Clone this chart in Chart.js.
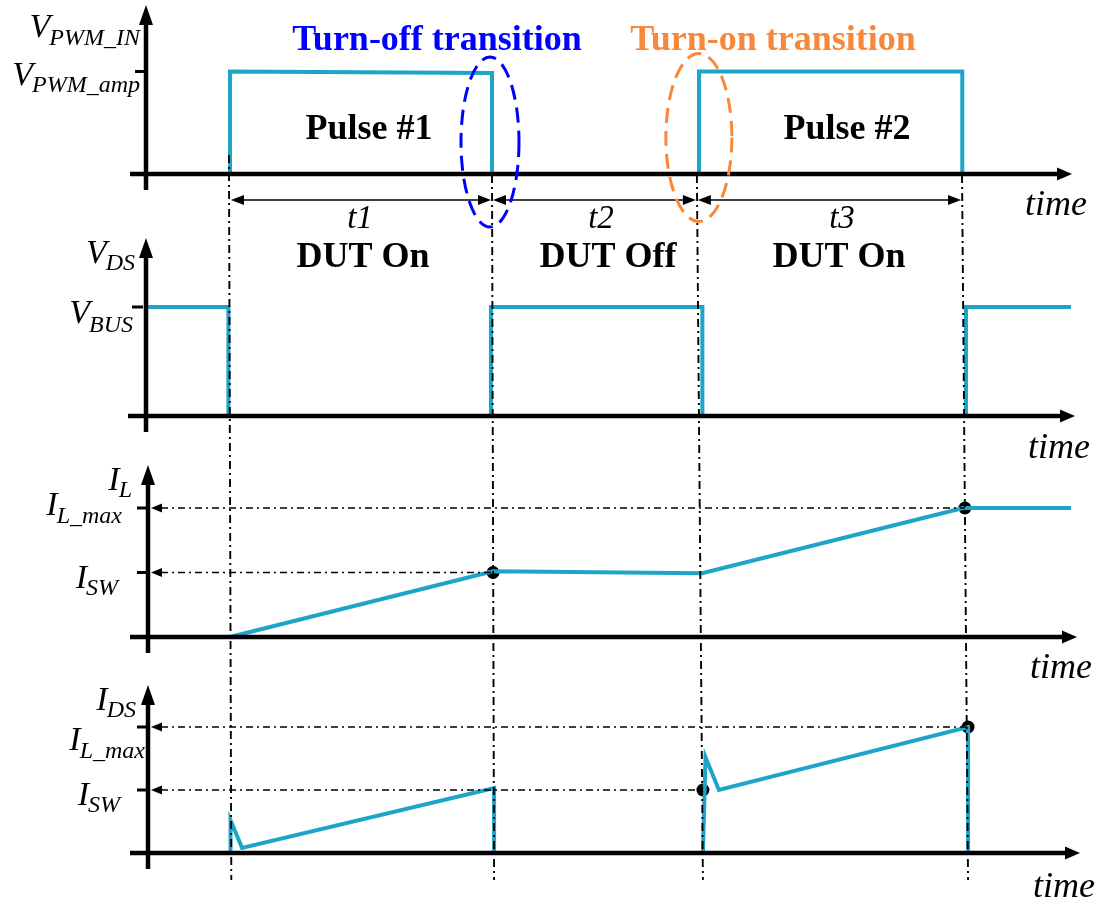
<!DOCTYPE html>
<html>
<head>
<meta charset="utf-8">
<script src="https://cdn.jsdelivr.net/npm/chart.js@4.4.1/dist/chart.umd.min.js"></script>
<style>
  html, body { margin: 0; padding: 0; background: #fff; }
  #wrap { width: 1100px; height: 903px; }
</style>
</head>
<body>
<div id="wrap"><canvas id="timing" width="1100" height="903"></canvas></div>
<script>
// time in arbitrary units, 0 = rising edge of pulse #1
const edgeTop = [-0.4, 100, 178.2, 279.4];      // switching edges, top of the guide lines
const edgeBottom = [0.5, 100.8, 180.5, 281.7];  // same edges at the bottom panel
const intervalLabels = ['t1', 't2', 't3'];
const stateLabels = ['DUT On', 'DUT Off', 'DUT On'];
const pulseLabels = ['Pulse #1', 'Pulse #2'];

// gate PWM, normalised to V_PWM_amp
const pwmTime = [0, 0, 100, 100, 179, 179, 279.5, 279.5];
const pwmLevel = [0, 1, 0.985, 0, 0, 1, 1, 0];

// drain-source voltage, normalised to V_BUS
const vdsTime = [-32, -0.6, -0.6, 99.6, 99.6, 180.3, 180.3, 280.9, 280.9, 321];
const vdsLevel = [1, 1, 0, 0, 1, 1, 0, 0, 1, 1];

// inductor current, normalised to I_L_max
const ilTime = [0, 100.4, 180.2, 279.8, 321];
const ilLevel = [0, 0.51, 0.495, 1, 1];
const ilDotTime = [100.4, 280.5];
const ilDotLevel = [0.5, 1];

// drain current, normalised to I_L_max
const idsTime = [0.2, 0.2, 4.6, 100.8, 100.8, 180.5, 181.5, 186.6, 281.7, 281.7];
const idsLevel = [0, 0.26, 0.04, 0.515, 0, 0, 0.76, 0.5, 1, 0];
const idsDotTime = [180.5, 281.7];
const idsDotLevel = [0.5, 1];

const TEAL = '#1ea4c7';
const SERIF = '"Liberation Serif", "Times New Roman", serif';
const W = 1100, H = 903;

// layout of the four panels (pixels)
const panels = [
  { id: 'y1', zeroPx: 174, onePx: 71.5, tip: 5, ax: 146, hStart: 130, hTip: 1072, ticks: [1],
    labels: [['V', 'PWM_IN', 140, 37, 45], ['V', 'PWM_amp', 140, 85, 92]], time: [1025, 215] },
  { id: 'y2', zeroPx: 416, onePx: 307, tip: 238, ax: 146, hStart: 128, hTip: 1075, ticks: [1], tickOff: -3,
    labels: [['V', 'DS', 135, 263, 270], ['V', 'BUS', 133, 323, 332]], time: [1028, 458] },
  { id: 'y3', zeroPx: 637, onePx: 508, tip: 465, ax: 148, hStart: 130, hTip: 1077, ticks: [1, 0.5],
    labels: [['I', 'L', 132, 490, 497], ['I', 'L_max', 122, 515, 523], ['I', 'SW', 118, 588, 595]], time: [1030, 678] },
  { id: 'y4', zeroPx: 853, onePx: 727, tip: 685, ax: 148, hStart: 130, hTip: 1080, ticks: [1, 0.5],
    labels: [['I', 'DS', 136, 710, 717], ['I', 'L_max', 145, 750, 758], ['I', 'SW', 120, 805, 812]], time: [1033, 897] }
];
// text centres under the interval arrows (pixels)
const intervalTextX = [360, 601, 842];
const stateTextX = [363, 608, 839];

function yRange(zeroPx, onePx) {
  const k = zeroPx - onePx;
  const min = (zeroPx - H) / k;
  return { min: min, max: min + H / k };
}
const xK = 2.62, xZero = 230;
const xMin = -xZero / xK;

function pts(t, v) { return t.map((x, i) => ({ x: x, y: v[i] })); }

function wave(data, axis) {
  return { type: 'line', data: data, yAxisID: axis, borderColor: TEAL, borderWidth: 4,
    pointRadius: 0, borderJoinStyle: 'miter', borderCapStyle: 'butt', tension: 0, fill: false };
}
function dots(data, axis) {
  return { type: 'scatter', data: data, yAxisID: axis, pointRadius: 6.5, pointBackgroundColor: '#000',
    pointBorderWidth: 0, showLine: false };
}

function head(ctx, x, y, dir, len, half) {
  ctx.beginPath();
  if (dir === 'up') { ctx.moveTo(x, y); ctx.lineTo(x - half, y + len); ctx.lineTo(x + half, y + len); }
  else if (dir === 'right') { ctx.moveTo(x, y); ctx.lineTo(x - len, y - half); ctx.lineTo(x - len, y + half); }
  else { ctx.moveTo(x, y); ctx.lineTo(x + len, y - half); ctx.lineTo(x + len, y + half); }
  ctx.closePath();
  ctx.fill();
}
function seg(ctx, x1, y1, x2, y2) { ctx.beginPath(); ctx.moveTo(x1, y1); ctx.lineTo(x2, y2); ctx.stroke(); }

const decor = {
  id: 'decor',
  afterDatasetsDraw(chart) {
    const ctx = chart.ctx, xs = chart.scales.x;
    ctx.save();
    ctx.fillStyle = '#000';
    ctx.strokeStyle = '#000';

    // axes, ticks, labels
    panels.forEach(p => {
      const ys = chart.scales[p.id];
      const y0 = ys.getPixelForValue(0);
      ctx.lineWidth = 4.5;
      seg(ctx, p.ax, y0 + 16, p.ax, p.tip + 16);
      head(ctx, p.ax, p.tip, 'up', 20, 7);
      seg(ctx, p.hStart, y0, p.hTip - 12, y0);
      head(ctx, p.hTip, y0, 'right', 15, 6.5);
      ctx.lineWidth = 3;
      p.ticks.forEach(v => {
        const ty = ys.getPixelForValue(v);
        const o = p.tickOff || 0;
        seg(ctx, p.ax - 11 + o, ty, p.ax + o, ty);
      });
      ctx.textAlign = 'left';
      ctx.textBaseline = 'alphabetic';
      p.labels.forEach(l => {
        ctx.font = 'italic 24px ' + SERIF;
        const sw = ctx.measureText(l[1]).width;
        ctx.fillText(l[1], l[2] - sw, l[4]);
        ctx.font = 'italic 34px ' + SERIF;
        const mw = ctx.measureText(l[0]).width;
        ctx.fillText(l[0], l[2] - sw - mw + 1, l[3]);
      });
      ctx.font = 'italic 36px ' + SERIF;
      ctx.fillText('time', p.time[0], p.time[1]);
    });

    // dash-dot guides to the marked current levels
    ctx.lineWidth = 1.7;
    [['y3', ilDotTime, ilDotLevel, 148], ['y4', idsDotTime, idsDotLevel, 148]].forEach(g => {
      const ys = chart.scales[g[0]];
      g[1].forEach((t, i) => {
        const gy = ys.getPixelForValue(g[2][i]);
        ctx.setLineDash([7, 4, 2, 4]);
        seg(ctx, g[3] + 13, gy, xs.getPixelForValue(t), gy);
        ctx.setLineDash([]);
        head(ctx, g[3] + 3, gy, 'left', 11, 4.5);
      });
    });

    // vertical dash-dot lines at the switching edges
    ctx.lineWidth = 1.9;
    ctx.setLineDash([8, 4, 2, 4]);
    edgeTop.forEach((t, i) => {
      seg(ctx, xs.getPixelForValue(t), i === 0 ? 155 : 175, xs.getPixelForValue(edgeBottom[i]), 880);
    });
    ctx.setLineDash([]);

    // interval arrows
    ctx.lineWidth = 1.3;
    const ay = 200;
    ctx.textAlign = 'center';
    for (let i = 0; i < 3; i++) {
      const a = xs.getPixelForValue(edgeTop[i] + (i === 0 ? 0.4 : 0)) + 1;
      const b = xs.getPixelForValue(edgeTop[i + 1]) - 1;
      seg(ctx, a + 10, ay, b - 10, ay);
      head(ctx, a, ay, 'left', 13, 5);
      head(ctx, b, ay, 'right', 13, 5);
      ctx.font = 'italic 33px ' + SERIF;
      ctx.fillText(intervalLabels[i], intervalTextX[i], 228);
      ctx.font = 'bold 36px ' + SERIF;
      ctx.fillText(stateLabels[i], stateTextX[i], 267);
    }

    // pulse names
    ctx.font = 'bold 36px ' + SERIF;
    ctx.fillText(pulseLabels[0], 369, 139);
    ctx.fillText(pulseLabels[1], 847, 139);

    // transition highlights
    ctx.lineWidth = 3;
    ctx.setLineDash([15, 8]);
    ctx.strokeStyle = '#0000ff';
    ctx.beginPath();
    ctx.ellipse(xs.getPixelForValue(edgeTop[1]) - 2, 142, 29, 85, 0, 0, Math.PI * 2);
    ctx.stroke();
    ctx.strokeStyle = '#f7883a';
    ctx.beginPath();
    ctx.ellipse(xs.getPixelForValue(edgeTop[2]) + 2, 137.5, 33, 84, 0, 0, Math.PI * 2);
    ctx.stroke();
    ctx.setLineDash([]);

    ctx.font = 'bold 36px ' + SERIF;
    ctx.fillStyle = '#0000ff';
    ctx.fillText('Turn-off transition', 437, 50);
    ctx.fillStyle = '#f7883a';
    ctx.fillText('Turn-on transition', 773, 50);
    ctx.restore();
  }
};

const scales = { x: { type: 'linear', min: xMin, max: xMin + W / xK, display: false } };
panels.forEach(p => {
  const r = yRange(p.zeroPx, p.onePx);
  scales[p.id] = { type: 'linear', position: 'left', min: r.min, max: r.max, display: false };
});

new Chart(document.getElementById('timing'), {
  type: 'line',
  data: {
    datasets: [
      wave(pts(pwmTime, pwmLevel), 'y1'),
      wave(pts(vdsTime, vdsLevel), 'y2'),
      wave(pts(ilTime, ilLevel), 'y3'),
      wave(pts(idsTime, idsLevel), 'y4'),
      dots(pts(ilDotTime, ilDotLevel), 'y3'),
      dots(pts(idsDotTime, idsDotLevel), 'y4')
    ]
  },
  options: {
    responsive: false,
    animation: false,
    events: [],
    layout: { padding: 0, autoPadding: false },
    scales: scales,
    plugins: { legend: { display: false }, tooltip: { enabled: false } }
  },
  plugins: [decor]
});
</script>
</body>
</html>
